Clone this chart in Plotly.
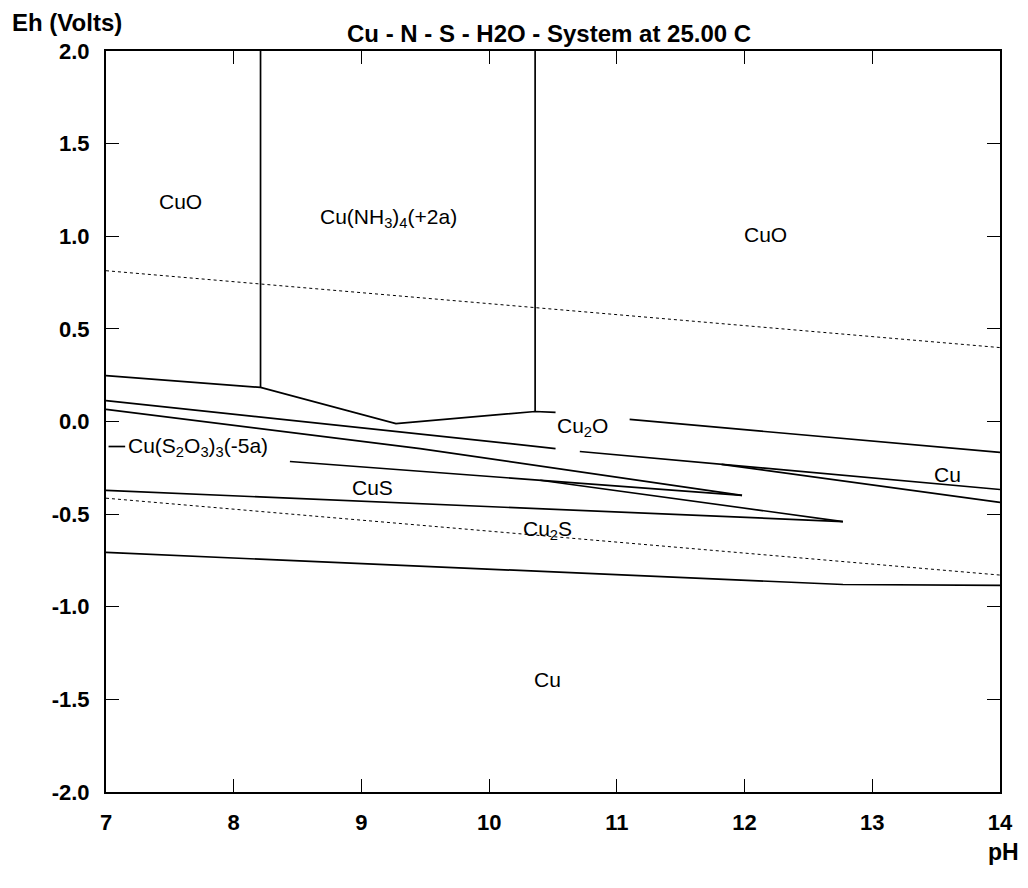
import plotly.graph_objects as go

# ---- boundary lines (pH, Eh) ----
nh3_left_ph = [8.21, 8.21]
nh3_left_eh = [2.0, 0.184]
nh3_right_ph = [10.36, 10.36]
nh3_right_eh = [2.0, 0.054]
upper_ph = [7.0, 8.21, 9.27, 10.36, 10.52]
upper_eh = [0.248, 0.184, -0.011, 0.054, 0.049]
cu2o_top_ph = [11.10, 14.0]
cu2o_top_eh = [0.011, -0.167]
line_a1_ph = [7.0, 10.52]
line_a1_eh = [0.113, -0.146]
line_a2_ph = [10.71, 14.0]
line_a2_eh = [-0.162, -0.367]
branch_j_ph = [11.82, 14.0]
branch_j_eh = [-0.231, -0.437]
line_b_ph = [7.0, 9.46, 11.98]
line_b_eh = [0.065, -0.146, -0.399]
line_g_ph = [8.44, 11.98]
line_g_eh = [-0.216, -0.399]
branch_h_ph = [10.40, 12.77]
branch_h_eh = [-0.317, -0.540]
line_i_ph = [7.0, 12.77]
line_i_eh = [-0.372, -0.540]
bottom_ph = [7.0, 12.77, 14.0]
bottom_eh = [-0.707, -0.880, -0.885]
leader_ph = [7.02, 7.15]
leader_eh = [-0.135, -0.135]

# water stability limits (dotted)
o2_ph = [7.0, 14.0]
o2_eh = [0.814, 0.399]
h2_ph = [7.0, 14.0]
h2_eh = [-0.414, -0.829]

# ---- region labels ----
label_text = ["CuO", "Cu(NH<sub>3</sub>)<sub>4</sub>(+2a)", "CuO", "Cu<sub>2</sub>O", "Cu",
              "Cu(S<sub>2</sub>O<sub>3</sub>)<sub>3</sub>(-5a)", "CuS", "Cu<sub>2</sub>S", "Cu"]
label_ph = [7.58, 9.21, 12.16, 10.73, 13.59, 7.72, 9.09, 10.46, 10.46]
label_eh = [1.188, 1.10, 1.01, -0.027, -0.286, -0.14, -0.356, -0.588, -1.393]

x_ticks = [7, 8, 9, 10, 11, 12, 13, 14]
y_ticks = [-2.0, -1.5, -1.0, -0.5, 0.0, 0.5, 1.0, 1.5, 2.0]

FONT = "Liberation Sans, Arial"

fig = go.Figure()

solid = [
    (nh3_left_ph, nh3_left_eh), (nh3_right_ph, nh3_right_eh), (upper_ph, upper_eh),
    (cu2o_top_ph, cu2o_top_eh), (line_a1_ph, line_a1_eh), (line_a2_ph, line_a2_eh),
    (branch_j_ph, branch_j_eh), (line_b_ph, line_b_eh), (line_g_ph, line_g_eh),
    (branch_h_ph, branch_h_eh), (line_i_ph, line_i_eh), (bottom_ph, bottom_eh),
    (leader_ph, leader_eh),
]
for xs, ys in solid:
    fig.add_trace(go.Scatter(x=xs, y=ys, mode="lines",
                             line=dict(color="black", width=1.7),
                             showlegend=False, hoverinfo="skip"))
for xs, ys in [(o2_ph, o2_eh), (h2_ph, h2_eh)]:
    fig.add_trace(go.Scatter(x=xs, y=ys, mode="lines",
                             line=dict(color="black", width=1, dash="dot"),
                             showlegend=False, hoverinfo="skip"))

for t, xx, yy in zip(label_text, label_ph, label_eh):
    fig.add_annotation(x=xx, y=yy, text=t, showarrow=False,
                       font=dict(family=FONT, size=21, color="black"))

fig.add_annotation(xref="paper", yref="paper", x=-0.107, y=1.039, xanchor="left", yanchor="middle",
                   text="<b>Eh (Volts)</b>", showarrow=False,
                   font=dict(family=FONT, size=24, color="black"))
fig.add_annotation(xref="paper", yref="paper", x=0.495, y=1.024, xanchor="center", yanchor="middle",
                   text="<b>Cu - N - S - H2O - System at 25.00 C</b>", showarrow=False,
                   font=dict(family=FONT, size=24, color="black"))
fig.add_annotation(xref="paper", yref="paper", x=1.024, y=-0.081, xanchor="right", yanchor="middle",
                   text="<b>pH</b>", showarrow=False,
                   font=dict(family=FONT, size=23, color="black"))

axis_common = dict(showline=True, linecolor="black", linewidth=2, mirror="allticks",
                   ticks="inside", ticklen=13, tickwidth=1.2, tickcolor="black",
                   showgrid=False, zeroline=False,
                   tickfont=dict(family=FONT, size=22, color="black"))

fig.update_xaxes(range=[7, 14], tickvals=x_ticks, ticktext=[f"<b>{v}</b>" for v in x_ticks],
                 ticklabelstandoff=10, **axis_common)
fig.update_yaxes(range=[-2, 2], tickvals=y_ticks, ticktext=[f"<b>{v:.1f}</b>" for v in y_ticks],
                 ticklabelstandoff=10, **axis_common)

# page body adds an 8px offset; sizes chosen so the plot area lands at x 106-1000, y 51-792
fig.update_layout(width=1020, height=880, margin=dict(l=98, r=28, t=43, b=96),
                  paper_bgcolor="white", plot_bgcolor="white", showlegend=False)

fig.write_html("out.html")
